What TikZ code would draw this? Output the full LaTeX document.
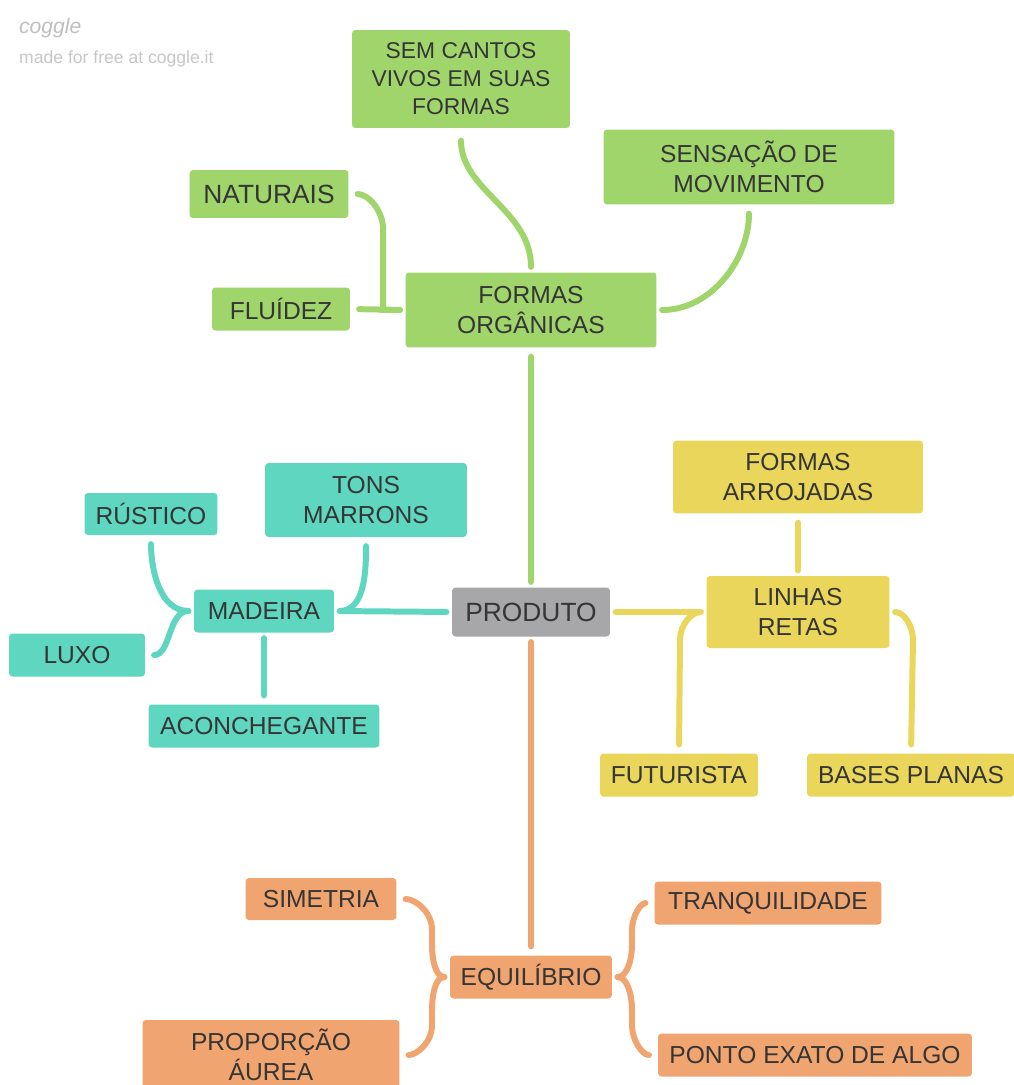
\documentclass[tikz,border=0pt]{standalone}
\usepackage{fontspec}
\setmainfont{Liberation Sans}
\definecolor{cgreen}{HTML}{A0D56C}
\definecolor{cteal}{HTML}{5ED6C0}
\definecolor{cyellow}{HTML}{E9D65A}
\definecolor{corange}{HTML}{F0A470}
\definecolor{cgrey}{HTML}{A7A7A9}
\definecolor{txt}{HTML}{353535}

\begin{document}
\begin{tikzpicture}[x=0.02cm,y=-0.02cm,
  box/.style={rounded corners=2pt, inner sep=0pt, align=center, text=txt,
    font=\fontsize{14}{17}\selectfont},
  gbox/.style={box, fill=cgreen},
  tbox/.style={box, fill=cteal},
  ybox/.style={box, fill=cyellow},
  obox/.style={box, fill=corange},
  pbox/.style={box, fill=cgrey},
  branch/.style={line width=3.4pt, line cap=round, shorten <=3pt, shorten >=5pt},
  gline/.style={branch, draw=cgreen},
  tline/.style={branch, draw=cteal},
  yline/.style={branch, draw=cyellow},
  oline/.style={branch, draw=corange}]
\useasboundingbox (0,0) rectangle (1014,1085);
\fill[white] (0,0) rectangle (1014,1085);

% logo
\node[anchor=west, text=black!25, font=\fontsize{12}{12}\itshape] (logo) at (13,28) {coggle};
\node[anchor=west, text=black!22, font=\fontsize{10}{10}\selectfont] (made) at (13,59) {made for free at coggle.it};

% centre
\node[pbox, minimum width=3.16cm, minimum height=0.98cm, font=\fontsize{15}{17}\selectfont] (prod) at (531,612) {PRODUTO};

% green
\node[gbox, minimum width=5.02cm, minimum height=1.5cm] (org) at (531,310) {FORMAS\\ORGÂNICAS};
\node[gbox, minimum width=4.36cm, minimum height=1.96cm, font=\fontsize{13}{16}\selectfont] (sem) at (461,79) {SEM CANTOS\\VIVOS EM SUAS\\FORMAS};
\node[gbox, minimum width=5.82cm, minimum height=1.5cm] (sens) at (749,167) {SENSAÇÃO DE\\MOVIMENTO};
\node[gbox, minimum width=3.18cm, minimum height=0.96cm, font=\fontsize{15}{17}\selectfont] (nat) at (269,194) {NATURAIS};
\node[gbox, minimum width=2.76cm, minimum height=0.86cm] (flu) at (281,309) {FLUÍDEZ};

% teal
\node[tbox, minimum width=2.8cm, minimum height=0.86cm] (mad) at (264,611) {MADEIRA};
\node[tbox, minimum width=4.04cm, minimum height=1.48cm] (tons) at (366,500) {TONS\\MARRONS};
\node[tbox, minimum width=2.66cm, minimum height=0.84cm] (rus) at (151,514) {RÚSTICO};
\node[tbox, minimum width=2.72cm, minimum height=0.86cm] (luxo) at (77,655) {LUXO};
\node[tbox, minimum width=4.62cm, minimum height=0.86cm] (acon) at (264,726) {ACONCHEGANTE};

% yellow
\node[ybox, minimum width=3.66cm, minimum height=1.44cm] (lin) at (798,612) {LINHAS\\RETAS};
\node[ybox, minimum width=5.0cm, minimum height=1.46cm] (arr) at (798,477) {FORMAS\\ARROJADAS};
\node[ybox, minimum width=3.16cm, minimum height=0.86cm] (fut) at (679,775) {FUTURISTA};
\node[ybox, minimum width=4.16cm, minimum height=0.86cm] (bas) at (911,775) {BASES PLANAS};

% orange
\node[obox, minimum width=3.24cm, minimum height=0.86cm] (equ) at (531,977) {EQUILÍBRIO};
\node[obox, minimum width=3.02cm, minimum height=0.84cm] (sim) at (321,899) {SIMETRIA};
\node[obox, minimum width=5.14cm, minimum height=1.4cm] (prop) at (271,1055) {PROPORÇÃO\\ÁUREA};
\node[obox, minimum width=4.54cm, minimum height=0.86cm] (tran) at (768,903) {TRANQUILIDADE};
\node[obox, minimum width=6.28cm, minimum height=0.86cm] (pon) at (815,1055) {PONTO EXATO DE ALGO};

% main branches
\draw[gline] (prod.north) -- (org.south);
\draw[tline] (prod.west) -- (mad.east);
\draw[yline] (prod.east) -- (lin.west);
\draw[oline] (prod.south) -- (equ.north);

% green branches
\draw[gline, shorten >=7pt] (org.north) to[out=90,in=-90] (sem.south);
\draw[gline] (org.east) to[out=0,in=-90] (sens.south);
\draw[gline] (org.west) -- (flu.east);
\draw[gline] (org.west) -- ++(-22,0) -- ++(0,-80) to[out=90,in=0] (nat.east);

% teal branches
\draw[tline] (mad.east) to[out=0,in=-90] (tons.south);
\draw[tline] (mad.west) to[out=180,in=-90] (rus.south);
\draw[tline] (mad.west) to[out=180,in=0] (luxo.east);
\draw[tline] (mad.south) -- (acon.north);

% yellow branches
\draw[yline] (lin.north) -- (arr.south);
\draw[yline] (lin.west) to[out=180,in=90] (680,640) -- (fut.north);
\draw[yline] (lin.east) to[out=0,in=90] (913,640) -- (bas.north);

% orange branches
\draw[oline] (equ.west) to[out=180,in=-90] (432,945) -- (432,930) to[out=90,in=0] (sim.east);
\draw[oline] (equ.west) to[out=180,in=90] (432,1010) -- (432,1025) to[out=-90,in=0] (prop.east);
\draw[oline] (equ.east) to[out=0,in=-90] (632,945) -- (632,930) to[out=90,in=180] (tran.west);
\draw[oline] (equ.east) to[out=0,in=90] (632,1010) -- (632,1025) to[out=-90,in=180] (pon.west);
\end{tikzpicture}
\end{document}
